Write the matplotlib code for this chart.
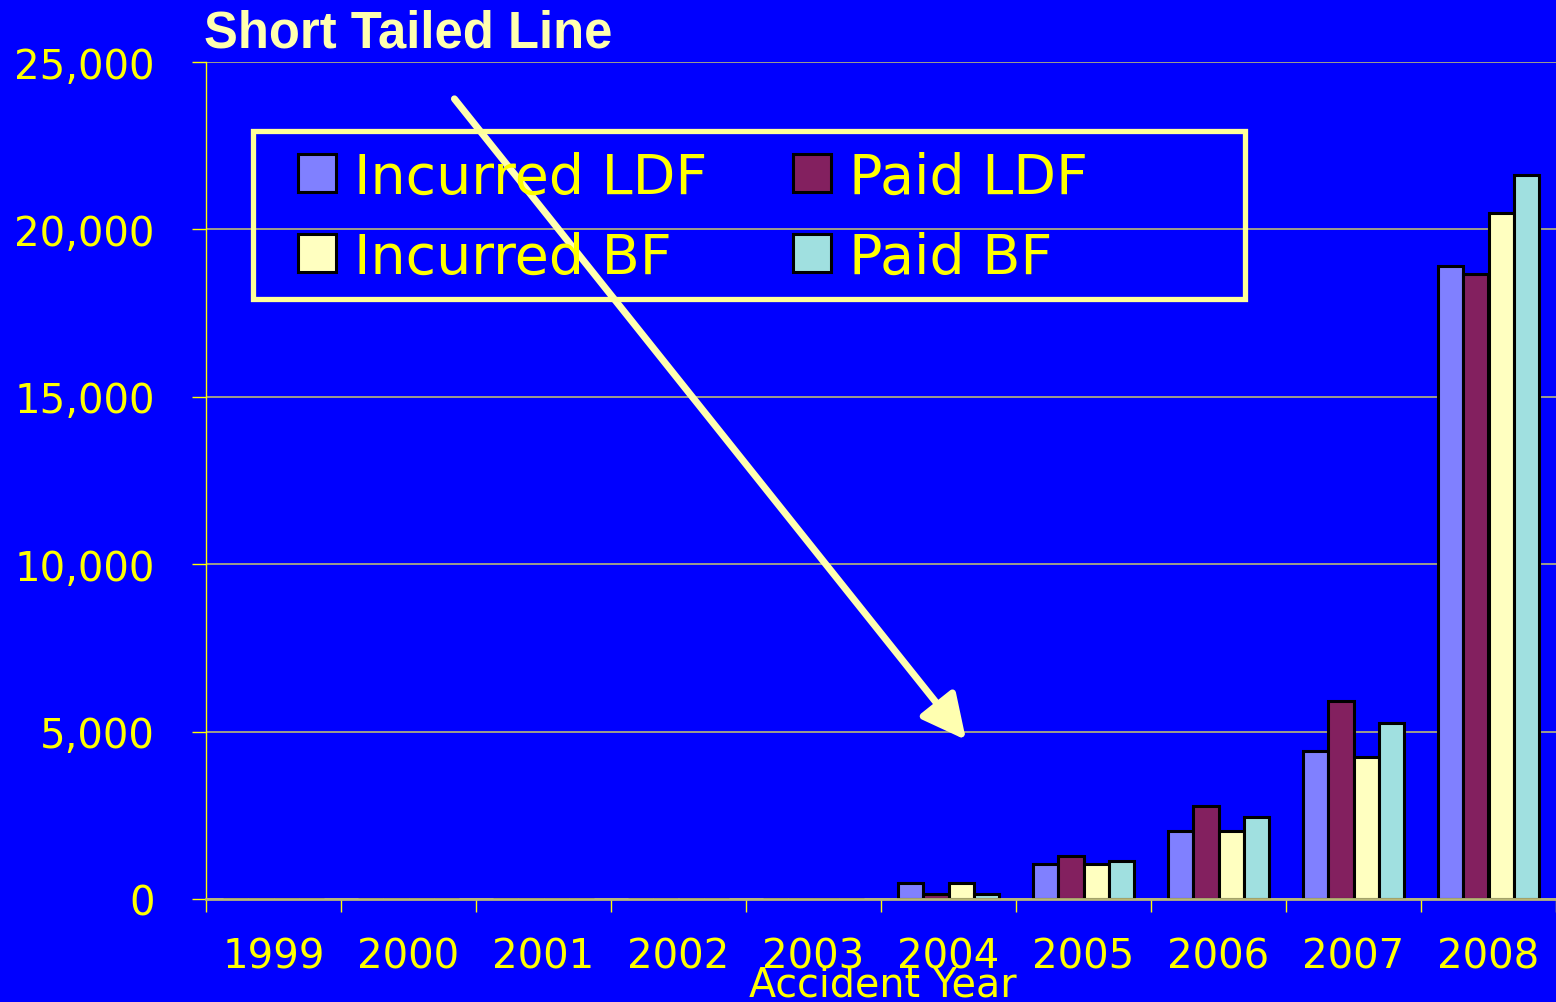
import matplotlib
matplotlib.use("Agg")
import matplotlib.pyplot as plt
from matplotlib.patches import Rectangle, Patch
from matplotlib.ticker import FuncFormatter, FixedLocator
import numpy as np

# data
years = ["1999", "2000", "2001", "2002", "2003", "2004", "2005", "2006", "2007", "2008"]
incurred_ldf = [0, 0, 0, 0, 0, 480, 1045, 2030, 4420, 18910]
paid_ldf = [0, 0, 0, 0, 0, 150, 1285, 2780, 5915, 18670]
incurred_bf = [0, 0, 0, 0, 0, 480, 1045, 2030, 4240, 20490]
paid_bf = [0, 0, 0, 0, 0, 150, 1135, 2450, 5260, 21630]

series = [
    ("Incurred LDF", incurred_ldf, "#8080FF"),
    ("Paid LDF", paid_ldf, "#83205F"),
    ("Incurred BF", incurred_bf, "#FFFFC0"),
    ("Paid BF", paid_bf, "#A0E0E0"),
]

BG = "#0000FF"
YEL = "#FFFF00"
PALE = "#FFFFB0"
GRID = "#B8B878"

W, H = 1556, 1003
fig = plt.figure(figsize=(W / 100, H / 100), dpi=100, facecolor=BG)
ax = fig.add_axes([206 / W, 103 / H, 1350 / W, 837 / H])
ax.set_facecolor(BG)

x = np.arange(len(years))
bw = 0.187
for i, (name, vals, col) in enumerate(series):
    ax.bar(x + (i - 1.5) * bw, vals, width=bw, color=col, edgecolor="black",
           linewidth=2.2, zorder=3, label=name)

ax.set_xlim(-0.5, len(years) - 0.5)
ax.set_ylim(0, 25000)
ax.set_yticks(np.arange(0, 25001, 5000))
ax.yaxis.set_major_formatter(FuncFormatter(lambda v, p: f"{int(v):,}"))
ax.grid(axis="y", color=GRID, linewidth=1.2, zorder=0)
ax.set_axisbelow(True)

for s in ["top", "right"]:
    ax.spines[s].set_visible(False)
ax.spines["left"].set_color(YEL)
ax.spines["left"].set_linewidth(1)
ax.spines["bottom"].set_color(GRID)
ax.spines["bottom"].set_linewidth(2)
ax.spines["bottom"].set_zorder(4)

ax.tick_params(axis="y", colors=YEL, labelsize=29, length=10, width=1, pad=27)
for t in ax.get_yticklabels():
    t.set_family("DejaVu Sans")

ax.set_xticks(x)
ax.set_xticklabels(years)
ax.tick_params(axis="x", which="major", length=0, colors=YEL, labelsize=29, pad=27)
ax.xaxis.set_minor_locator(FixedLocator(np.arange(-0.5, len(years), 1.0)))
ax.tick_params(axis="x", which="minor", length=9, width=1, color=YEL)

fig.text(883 / W, 1 - 997 / H, "Accident Year", color=YEL, fontsize=28.5,
         ha="center", va="baseline", family="DejaVu Sans")

fig.text(204 / W, 1 - 47 / H, "Short Tailed Line", color=PALE, fontsize=36.5,
         fontweight="bold", family="Liberation Sans", ha="left", va="baseline")

# legend: frame drawn separately so it can be as wide as in the reference
fig.patches.append(Rectangle((253 / W, 1 - 300 / H), 992 / W, 168 / H,
                             transform=fig.transFigure, facecolor="none",
                             edgecolor="#FFFF99", linewidth=3.8, zorder=5))
order = [0, 2, 1, 3]  # legend fills column by column
handles = [Patch(facecolor=series[k][2], edgecolor="black", linewidth=2.2) for k in order]
labels = [series[k][0] for k in order]
leg = fig.legend(handles, labels, ncol=2, loc="upper left",
                 bbox_to_anchor=(265 / W, 1 - 118 / H), frameon=False,
                 labelcolor=YEL, handlelength=0.68, handleheight=0.68,
                 handletextpad=0.33, columnspacing=1.54, labelspacing=0.47,
                 borderpad=0.1, prop={"family": "DejaVu Sans", "size": 40})

# arrow pointing at 2004
ax.annotate("", xy=(5.13, 4750), xytext=(1.34, 23900),
            arrowprops=dict(arrowstyle="-|>,head_length=0.9,head_width=0.45",
                            color=PALE, lw=5, mutation_scale=30,
                            shrinkA=0, shrinkB=0), zorder=6)

fig.savefig("out.png", dpi=100, facecolor=BG)
